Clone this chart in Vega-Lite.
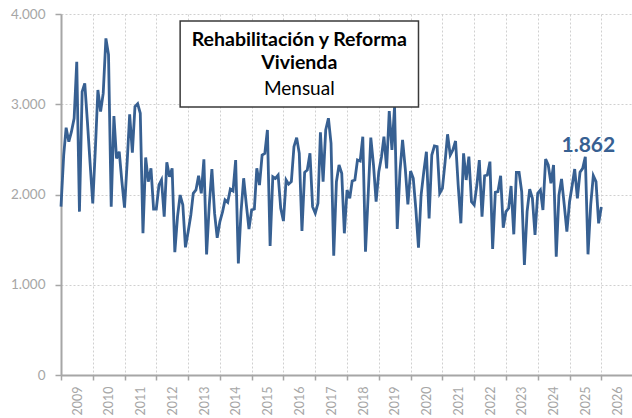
{
  "$schema": "https://vega.github.io/schema/vega-lite/v6.json",
  "width": 572,
  "height": 361,
  "autosize": {"type": "none"},
  "padding": {"left": 61, "top": 14, "right": 0, "bottom": 43},
  "background": "white",
  "config": {
    "view": {"stroke": null},
    "font": "Lato",
    "axis": {
      "title": null,
      "labelColor": "#a6a6a6",
      "tickColor": "#a6a6a6",
      "tickWidth": 1.5,
      "domainColor": "#a6a6a6",
      "domainWidth": 2,
      "grid": true,
      "gridColor": "#d0d0d0",
      "gridDash": [2, 2],
      "gridWidth": 1,
      "labelOverlap": false,
      "labelFlush": false,
      "labelBound": false
    },
    "axisX": {
      "format": "%Y",
      "tickCount": {"interval": "year", "step": 1},
      "labelAngle": -90,
      "labelAlign": "right",
      "labelBaseline": "middle",
      "labelOffset": 16,
      "labelFontSize": 12.5,
      "labelPadding": 6,
      "tickSize": 5
    },
    "axisY": {
      "labelFontSize": 13.5,
      "labelPadding": 10,
      "tickSize": 6
    }
  },
  "datasets": {
    "serie": [
      {"d":"2009-01","v":1865},{"d":"2009-02","v":2437},{"d":"2009-03","v":2740},{"d":"2009-04","v":2585},{"d":"2009-05","v":2696},{"d":"2009-06","v":2845},{"d":"2009-07","v":3470},{"d":"2009-08","v":1810},{"d":"2009-09","v":3140},{"d":"2009-10","v":3232},{"d":"2009-11","v":2800},{"d":"2009-12","v":2350},
      {"d":"2010-01","v":1902},{"d":"2010-02","v":2530},{"d":"2010-03","v":3158},{"d":"2010-04","v":2918},{"d":"2010-05","v":3120},{"d":"2010-06","v":3730},{"d":"2010-07","v":3550},{"d":"2010-08","v":1865},{"d":"2010-09","v":2870},{"d":"2010-10","v":2400},{"d":"2010-11","v":2474},{"d":"2010-12","v":2150},
      {"d":"2011-01","v":1854},{"d":"2011-02","v":2370},{"d":"2011-03","v":2889},{"d":"2011-04","v":2463},{"d":"2011-05","v":2973},{"d":"2011-06","v":3005},{"d":"2011-07","v":2900},{"d":"2011-08","v":1570},{"d":"2011-09","v":2410},{"d":"2011-10","v":2142},{"d":"2011-11","v":2290},{"d":"2011-12","v":1839},
      {"d":"2012-01","v":1839},{"d":"2012-02","v":2105},{"d":"2012-03","v":2161},{"d":"2012-04","v":1754},{"d":"2012-05","v":2357},{"d":"2012-06","v":2197},{"d":"2012-07","v":2290},{"d":"2012-08","v":1362},{"d":"2012-09","v":1754},{"d":"2012-10","v":1994},{"d":"2012-11","v":1884},{"d":"2012-12","v":1415},
      {"d":"2013-01","v":1588},{"d":"2013-02","v":1773},{"d":"2013-03","v":2013},{"d":"2013-04","v":2050},{"d":"2013-05","v":2208},{"d":"2013-06","v":2013},{"d":"2013-07","v":2390},{"d":"2013-08","v":1337},{"d":"2013-09","v":1884},{"d":"2013-10","v":2282},{"d":"2013-11","v":1790},{"d":"2013-12","v":1520},
      {"d":"2014-01","v":1700},{"d":"2014-02","v":1810},{"d":"2014-03","v":1940},{"d":"2014-04","v":1913},{"d":"2014-05","v":2060},{"d":"2014-06","v":2039},{"d":"2014-07","v":2382},{"d":"2014-08","v":1237},{"d":"2014-09","v":1810},{"d":"2014-10","v":2180},{"d":"2014-11","v":1884},{"d":"2014-12","v":1616},
      {"d":"2015-01","v":1830},{"d":"2015-02","v":1839},{"d":"2015-03","v":2290},{"d":"2015-04","v":2105},{"d":"2015-05","v":2437},{"d":"2015-06","v":2456},{"d":"2015-07","v":2715},{"d":"2015-08","v":1429},{"d":"2015-09","v":2197},{"d":"2015-10","v":2179},{"d":"2015-11","v":2216},{"d":"2015-12","v":1847},
      {"d":"2016-01","v":1706},{"d":"2016-02","v":2161},{"d":"2016-03","v":2115},{"d":"2016-04","v":2142},{"d":"2016-05","v":2530},{"d":"2016-06","v":2630},{"d":"2016-07","v":2456},{"d":"2016-08","v":1596},{"d":"2016-09","v":2246},{"d":"2016-10","v":2271},{"d":"2016-11","v":2456},{"d":"2016-12","v":1865},
      {"d":"2017-01","v":1792},{"d":"2017-02","v":1902},{"d":"2017-03","v":2689},{"d":"2017-04","v":2142},{"d":"2017-05","v":2715},{"d":"2017-06","v":2845},{"d":"2017-07","v":2567},{"d":"2017-08","v":1322},{"d":"2017-09","v":2142},{"d":"2017-10","v":2327},{"d":"2017-11","v":2235},{"d":"2017-12","v":1570},
      {"d":"2018-01","v":2050},{"d":"2018-02","v":1958},{"d":"2018-03","v":2150},{"d":"2018-04","v":2161},{"d":"2018-05","v":2382},{"d":"2018-06","v":2371},{"d":"2018-07","v":2640},{"d":"2018-08","v":1366},{"d":"2018-09","v":1994},{"d":"2018-10","v":2630},{"d":"2018-11","v":2327},{"d":"2018-12","v":1920},
      {"d":"2019-01","v":2253},{"d":"2019-02","v":2419},{"d":"2019-03","v":2640},{"d":"2019-04","v":2290},{"d":"2019-05","v":2925},{"d":"2019-06","v":2493},{"d":"2019-07","v":2973},{"d":"2019-08","v":1618},{"d":"2019-09","v":2253},{"d":"2019-10","v":2604},{"d":"2019-11","v":2290},{"d":"2019-12","v":1891},
      {"d":"2020-01","v":2260},{"d":"2020-02","v":2179},{"d":"2020-03","v":1847},{"d":"2020-04","v":1411},{"d":"2020-05","v":1994},{"d":"2020-06","v":2253},{"d":"2020-07","v":2474},{"d":"2020-08","v":1736},{"d":"2020-09","v":2437},{"d":"2020-10","v":2537},{"d":"2020-11","v":2530},{"d":"2020-12","v":2013},
      {"d":"2021-01","v":2068},{"d":"2021-02","v":2364},{"d":"2021-03","v":2667},{"d":"2021-04","v":2437},{"d":"2021-05","v":2493},{"d":"2021-06","v":2593},{"d":"2021-07","v":2105},{"d":"2021-08","v":1681},{"d":"2021-09","v":2456},{"d":"2021-10","v":2161},{"d":"2021-11","v":2419},{"d":"2021-12","v":1920},
      {"d":"2022-01","v":1884},{"d":"2022-02","v":2105},{"d":"2022-03","v":2382},{"d":"2022-04","v":1754},{"d":"2022-05","v":2208},{"d":"2022-06","v":2216},{"d":"2022-07","v":2364},{"d":"2022-08","v":1396},{"d":"2022-09","v":2024},{"d":"2022-10","v":2031},{"d":"2022-11","v":2208},{"d":"2022-12","v":1632},
      {"d":"2023-01","v":1810},{"d":"2023-02","v":1847},{"d":"2023-03","v":2094},{"d":"2023-04","v":1559},{"d":"2023-05","v":2246},{"d":"2023-06","v":2246},{"d":"2023-07","v":2031},{"d":"2023-08","v":1219},{"d":"2023-09","v":1810},{"d":"2023-10","v":2058},{"d":"2023-11","v":1958},{"d":"2023-12","v":1551},
      {"d":"2024-01","v":2013},{"d":"2024-02","v":2050},{"d":"2024-03","v":1828},{"d":"2024-04","v":2393},{"d":"2024-05","v":2327},{"d":"2024-06","v":2124},{"d":"2024-07","v":2327},{"d":"2024-08","v":1311},{"d":"2024-09","v":1994},{"d":"2024-10","v":2172},{"d":"2024-11","v":1884},{"d":"2024-12","v":1588},
      {"d":"2025-01","v":1920},{"d":"2025-02","v":2105},{"d":"2025-03","v":2282},{"d":"2025-04","v":1958},{"d":"2025-05","v":2246},{"d":"2025-06","v":2290},{"d":"2025-07","v":2419},{"d":"2025-08","v":1337},{"d":"2025-09","v":1884},{"d":"2025-10","v":2208},{"d":"2025-11","v":2142},{"d":"2025-12","v":1681},
      {"d":"2026-01","v":1862}
    ],
    "ultimo": [{"d":"2026-01","v":1862,"t":"1.862"}],
    "caja": [{"x1":"2012-10","x2":"2020-04","y1":2970,"y2":3922}],
    "titulo": [
      {"d":"2016-07","v":3712,"t":"Rehabilitación y Reforma"},
      {"d":"2016-07","v":3457,"t":"Vivienda"}
    ],
    "subtitulo": [{"d":"2016-07","v":3169,"t":"Mensual"}]
  },
  "layer": [
    {
      "data": {"name": "serie", "format": {"parse": {"d": "utc:'%Y-%m'"}}},
      "mark": {"type": "line", "color": "#376092", "strokeWidth": 2.8},
      "encoding": {
        "x": {
          "field": "d", "type": "temporal",
          "scale": {"type": "utc", "domain": [{"year": 2009, "month": 1, "date": 1, "utc": true}, {"year": 2026, "month": 12, "date": 31, "utc": true}]},
          "axis": {"tickCount": {"interval": "year", "step": 1}, "labelOverlap": false}
        },
        "y": {
          "field": "v", "type": "quantitative",
          "scale": {"domain": [0, 4000], "nice": false},
          "axis": {
            "values": [0, 1000, 2000, 3000, 4000],
            "labelExpr": "replace(format(datum.value, ','), ',', '.')"
          }
        }
      }
    },
    {
      "data": {"name": "ultimo", "format": {"parse": {"d": "utc:'%Y-%m'"}}},
      "mark": {"type": "text", "color": "#376092", "fontWeight": "bold", "fontSize": 21, "align": "center", "baseline": "middle", "dx": -13, "dy": -61},
      "encoding": {
        "x": {"field": "d", "type": "temporal"},
        "y": {"field": "v", "type": "quantitative"},
        "text": {"field": "t"}
      }
    },
    {
      "data": {"name": "caja", "format": {"parse": {"x1": "utc:'%Y-%m'", "x2": "utc:'%Y-%m'"}}},
      "mark": {"type": "rect", "fill": "white", "stroke": "#3a3a3a", "strokeWidth": 1.5},
      "encoding": {
        "x": {"field": "x1", "type": "temporal"},
        "x2": {"field": "x2"},
        "y": {"field": "y1", "type": "quantitative"},
        "y2": {"field": "y2"}
      }
    },
    {
      "data": {"name": "titulo", "format": {"parse": {"d": "utc:'%Y-%m'"}}},
      "mark": {"type": "text", "color": "black", "fontWeight": "bold", "fontSize": 19.5, "align": "center", "baseline": "middle"},
      "encoding": {
        "x": {"field": "d", "type": "temporal"},
        "y": {"field": "v", "type": "quantitative"},
        "text": {"field": "t"}
      }
    },
    {
      "data": {"name": "subtitulo", "format": {"parse": {"d": "utc:'%Y-%m'"}}},
      "mark": {"type": "text", "color": "black", "fontSize": 19, "align": "center", "baseline": "middle"},
      "encoding": {
        "x": {"field": "d", "type": "temporal"},
        "y": {"field": "v", "type": "quantitative"},
        "text": {"field": "t"}
      }
    }
  ]
}
